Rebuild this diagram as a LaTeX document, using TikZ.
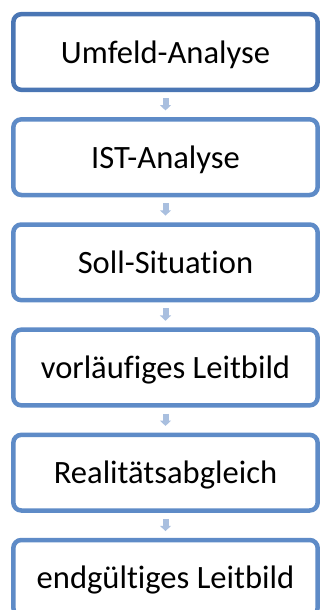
\documentclass[tikz,border=0pt]{standalone}
\usepackage{fontspec}
\setmainfont{Carlito}[Ligatures=NoCommon]
\usetikzlibrary{positioning,arrows.meta}
\definecolor{boxblue}{HTML}{5E8BC7}
\definecolor{boxdark}{HTML}{4A76B4}
\definecolor{arrowblue}{HTML}{A9BFDF}

\begin{document}
\begin{tikzpicture}[
    stepbox/.style={draw=boxblue, line width=0.135cm, rounded corners=0.24cm, fill=white,
      minimum width=9.13cm, minimum height=2.27cm, inner sep=0pt,
      text height=0.66cm, text depth=0cm,
      font=\fontsize{27.8}{33}\selectfont},
    flow/.style={draw=arrowblue, line width=0.18cm, -{Triangle[width=0.33cm,length=0.16cm]},
      shorten <=0.18cm, shorten >=0.2cm},
    node distance=0.75cm
  ]
  \useasboundingbox (0,0) rectangle (9.63,-18.3);

  % Steps of the process
  \node[stepbox, draw=boxdark] (umfeld) at (4.965,-1.56) {Umfeld-Analyse};
  \node[stepbox, below=of umfeld] (ist) {IST-Analyse};
  \node[stepbox, below=of ist] (soll) {Soll-Situation};
  \node[stepbox, below=of soll] (vorl) {vorläufiges Leitbild};
  \node[stepbox, below=of vorl] (abgl) {Realitätsabgleich};
  \node[stepbox, below=of abgl] (endg) {endgültiges Leitbild};

  % Arrows
  \foreach \a/\b in {umfeld/ist, ist/soll, soll/vorl, vorl/abgl, abgl/endg}
    \draw[flow] (\a) -- (\b);
\end{tikzpicture}
\end{document}
